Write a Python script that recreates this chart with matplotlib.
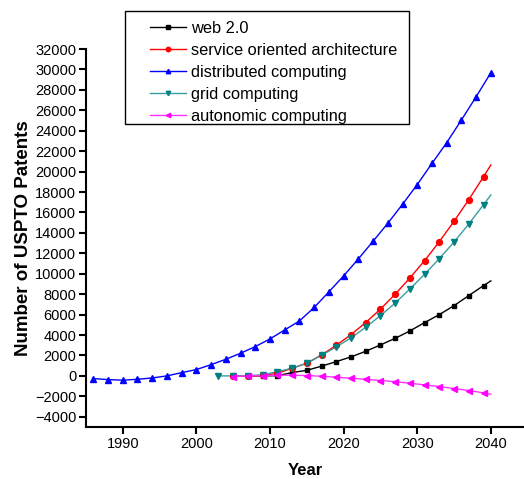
import numpy as np
import matplotlib.pyplot as plt
from matplotlib.patches import Rectangle

plt.rcParams['font.family'] = ['Liberation Sans', 'DejaVu Sans']

# distributed computing: every second year 1986-2040
years_dist = np.arange(1986, 2041, 2)
dist = [-260, -360, -420, -330, -200, 0, 320, 620, 1100, 1630, 2220, 2870,
        3620, 4500, 5380, 6700, 8230, 9790, 11450, 13180, 14940, 16800,
        18730, 20800, 22830, 25050, 27330, 29680]

# web 2.0: odd years 2005-2039, curve carried on to 2040
years_web = np.r_[np.arange(2005, 2040, 2), 2040]
web = [0, 0, 0, 20, 320, 550, 950, 1400, 1860, 2410, 3030, 3680, 4400,
       5220, 6000, 6880, 7860, 8840, 9300]

# service oriented architecture
years_soa = np.r_[np.arange(2005, 2040, 2), 2040]
soa = [0, 0, 40, 250, 750, 1240, 2050, 3000, 4040, 5220, 6540, 7990,
       9590, 11280, 13140, 15140, 17250, 19500, 20650]

# grid computing
years_grid = np.r_[np.arange(2003, 2040, 2), 2040]
grid = [0, 0, 30, 100, 420, 750, 1240, 2020, 2840, 3720, 4760, 5900, 7130,
        8510, 9950, 11480, 13110, 14870, 16760, 17710]

# autonomic computing
years_auto = np.r_[np.arange(2005, 2040, 2), 2040]
auto = [-60, 0, 30, 70, 70, 30, -30, -130, -230, -330, -460, -560, -720,
        -880, -1040, -1240, -1430, -1660, -1790]

series = [
    (years_web, web, 'web 2.0', 'black', 'black', 's', 3.5),
    (years_soa, soa, 'service oriented architecture', 'red', 'red', 'o', 4.2),
    (years_dist, dist, 'distributed computing', 'blue', 'blue', '^', 4.5),
    (years_grid, grid, 'grid computing', '#3a9e9e', '#008080', 'v', 4.5),
    (years_auto, auto, 'autonomic computing', '#ff33ff', '#ff00ff', '<', 4.5),
]

fig = plt.figure(figsize=(5.24, 4.79), dpi=100)
ax = fig.add_axes([0.164, 0.1086, 0.836, 0.7891])

handles = []
for x, y, label, lc, mc, mk, ms in series:
    x = np.asarray(x)
    y = np.asarray(y)
    # markers sit on the two-year grid only, the line runs to the last year
    on = (x - x[0]) % 2 == 0
    ax.plot(x, y, '-', color=lc, lw=1.0, zorder=2)
    ax.plot(x[on], y[on], mk, color=mc, ms=ms, zorder=3)
    h, = ax.plot([], [], '-', color=lc, lw=1.0, marker=mk, mfc=mc, mec=mc,
                 ms=3.2, label=label)
    handles.append(h)

ax.set_xlim(1985, 2044.5)
ax.set_ylim(-5000, 32000)
ax.set_xticks(np.arange(1990, 2041, 10))
ax.set_yticks(np.arange(-4000, 32001, 2000))

ax.spines['top'].set_visible(False)
ax.spines['right'].set_visible(False)
for s in ('left', 'bottom'):
    ax.spines[s].set_linewidth(1.5)
ax.tick_params(direction='out', length=5, width=1.5, labelsize=10.5, pad=2)

ax.set_xlabel('Year', fontsize=12, fontweight='bold', labelpad=9)
ax.set_ylabel('Number of USPTO Patents', fontsize=13.5, fontweight='bold', labelpad=2)

# legend frame drawn separately so the left inset can differ from the right
fig.patches.append(Rectangle((125 / 524, 1 - 124 / 479), 284 / 524, 113 / 479,
                             transform=fig.transFigure, fill=False,
                             edgecolor='black', lw=1.0))
fig.legend(handles=handles, loc='upper left',
           bbox_to_anchor=(150 / 524, 1 - 21 / 479), fontsize=11.8,
           frameon=False, handlelength=2.2, handletextpad=0.3,
           borderpad=0, labelspacing=0.42, borderaxespad=0)

fig.savefig('out.png', dpi=100)
